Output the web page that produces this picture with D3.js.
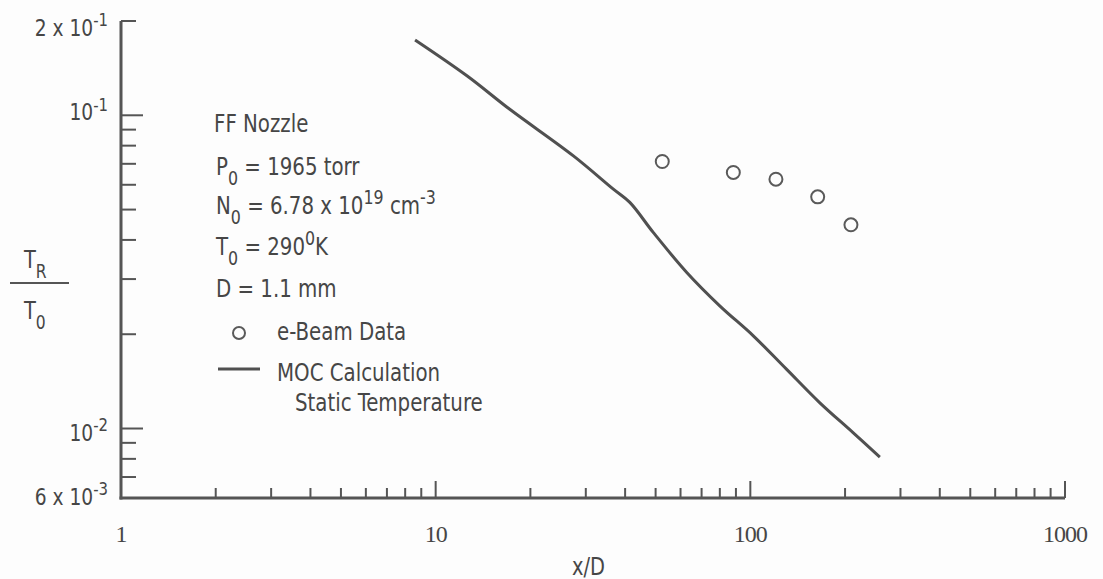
<!DOCTYPE html>
<html>
<head>
<meta charset="utf-8">
<script src="https://cdn.jsdelivr.net/npm/d3@7"></script>
<style>
  body { margin: 0; background: #fdfdfd; }
  svg { display: block; }
  .sans { font-family: "DejaVu Sans Condensed", "Liberation Sans Narrow", sans-serif; fill: #464646; }
  .serif { font-family: "Liberation Serif", serif; fill: #464646; }
</style>
</head>
<body>
<div id="chart"></div>
<script>

// MOC calculation (static temperature)
var curveX = [8.6, 12.6, 17.2, 27.4, 36.7, 41.4, 49.2, 62.8, 80.1, 102, 130, 166, 212, 258];
var curveY = [0.174, 0.1335, 0.1045, 0.0742, 0.0581, 0.0527, 0.0422, 0.0315, 0.0246, 0.0198, 0.0155, 0.0121, 0.0097, 0.0081];

// e-beam data points
var dataX = [52.5, 88.3, 120.6, 163.7, 208.8];
var dataY = [0.0712, 0.0657, 0.0625, 0.0549, 0.0447];

// axis labels
var xMajor = [1, 10, 100, 1000];
var xLabels = ["1", "10", "100", "1000"];
var yMajor = [0.2, 0.1, 0.01, 0.006];
var yMant = ["2 x 10", "10", "10", "6 x 10"];
var yExp = ["-1", "-1", "-2", "-3"];

LogPlot = function(_parentElement) {
  this.parentElement = _parentElement;
  this.width = 1103;
  this.height = 579;
  this.initVis();
};

LogPlot.prototype.initVis = function() {
  var vis = this;

  vis.svg = d3.select(vis.parentElement).append("svg")
    .attr("width", vis.width)
    .attr("height", vis.height);

  vis.x = d3.scaleLog().domain([1, 1000]).range([121, 1065]);
  vis.y = d3.scaleLog().domain([0.006, 0.2]).range([498, 21]);

  vis.drawAxes();
  vis.drawData();
  vis.drawLegend();
};

// text with sub/superscripts, parts = [[text, "sub"|"sup"|""], ...]
// sx squeezes the glyphs sideways (the original lettering is tall and narrow)
LogPlot.prototype.rich = function(x, y, parts, size, sx, cls) {
  var vis = this;
  var g = vis.svg.append("g")
    .attr("transform", "translate(" + x + "," + y + ") scale(" + (sx || 1) + ",1)");
  var t = g.append("text")
    .attr("class", cls || "sans")
    .attr("font-size", size);
  var shift = 0;
  parts.forEach(function(p) {
    var target = p[1] == "sub" ? size * 0.4 : (p[1] == "sup" ? -size * 0.42 : 0);
    t.append("tspan")
      .attr("dy", target - shift)
      .attr("font-size", p[1] ? size * 0.8 : size)
      .text(p[0]);
    shift = target;
  });
  return t;
};

LogPlot.prototype.drawAxes = function() {
  var vis = this;
  var col = "#555";

  // axis lines
  vis.svg.append("line")
    .attr("x1", vis.x(1)).attr("x2", vis.x(1))
    .attr("y1", vis.y(0.2)).attr("y2", vis.y(0.006) + 1.5)
    .attr("stroke", col).attr("stroke-width", 3);
  vis.svg.append("line")
    .attr("x1", vis.x(1) - 1.5).attr("x2", vis.x(1000))
    .attr("y1", vis.y(0.006)).attr("y2", vis.y(0.006))
    .attr("stroke", col).attr("stroke-width", 3);

  // x ticks, pointing up
  var xt = vis.x.ticks().filter(function(d) { return d > 1; });
  vis.svg.selectAll(".xtick")
    .data(xt)
    .enter().append("line")
    .attr("class", "xtick")
    .attr("x1", function(d) { return vis.x(d); })
    .attr("x2", function(d) { return vis.x(d); })
    .attr("y1", vis.y(0.006))
    .attr("y2", function(d) { return vis.y(0.006) - (xMajor.indexOf(d) >= 0 ? 17 : 10); })
    .attr("stroke", col).attr("stroke-width", 2);

  vis.svg.selectAll(".xlab")
    .data(xMajor)
    .enter().append("text")
    .attr("class", "serif")
    .attr("x", function(d) { return vis.x(d); })
    .attr("y", 542)
    .attr("text-anchor", "middle")
    .attr("font-size", 24)
    .attr("letter-spacing", -1)
    .text(function(d, i) { return xLabels[i]; });

  vis.rich(572, 575, [["x/D", ""]], 24, 0.9);

  // y ticks, pointing right
  var yt = vis.y.ticks().filter(function(d) { return d <= 0.1 + 1e-9 && d > 0.0061; });
  yt.push(0.2);
  vis.svg.selectAll(".ytick")
    .data(yt)
    .enter().append("line")
    .attr("class", "ytick")
    .attr("x1", vis.x(1))
    .attr("x2", function(d) {
      var big = (Math.abs(d - 0.1) < 1e-9 || Math.abs(d - 0.01) < 1e-9);
      return vis.x(1) + (big ? 22 : 15);
    })
    .attr("y1", function(d) { return vis.y(d); })
    .attr("y2", function(d) { return vis.y(d); })
    .attr("stroke", col).attr("stroke-width", 2);

  // the labels sit a little below their ticks, the top one most
  var drop = [15, 5, 12, 7];
  yMajor.forEach(function(v, i) {
    vis.rich(108, vis.y(v) + drop[i], [[yMant[i], ""], [yExp[i], "sup"]], 23, 0.9)
      .attr("text-anchor", "end");
  });

  // T_R / T_0
  vis.rich(24, 268, [["T", ""], ["R", "sub"]], 24, 0.9);
  vis.svg.append("line")
    .attr("x1", 10).attr("x2", 69)
    .attr("y1", 283).attr("y2", 283)
    .attr("stroke", col).attr("stroke-width", 2);
  vis.rich(24, 319, [["T", ""], ["0", "sub"]], 24, 0.9);
};

LogPlot.prototype.drawData = function() {
  var vis = this;

  var pts = curveX.map(function(d, i) { return [d, curveY[i]]; });
  var line = d3.line()
    .x(function(d) { return vis.x(d[0]); })
    .y(function(d) { return vis.y(d[1]); })
    .curve(d3.curveCatmullRom.alpha(0.5));

  vis.svg.append("path")
    .datum(pts)
    .attr("d", line)
    .attr("fill", "none")
    .attr("stroke", "#505050")
    .attr("stroke-width", 3);

  vis.svg.selectAll(".dot")
    .data(dataX)
    .enter().append("circle")
    .attr("class", "dot")
    .attr("cx", function(d) { return vis.x(d); })
    .attr("cy", function(d, i) { return vis.y(dataY[i]); })
    .attr("r", 6.5)
    .attr("fill", "none")
    .attr("stroke", "#5a5a5a")
    .attr("stroke-width", 2);
};

LogPlot.prototype.drawLegend = function() {
  var vis = this;
  var fs = 25, sx = 0.88;

  vis.rich(214, 132, [["FF Nozzle", ""]], fs, sx);
  vis.rich(216, 175, [["P", ""], ["0", "sub"], [" = 1965 torr", ""]], fs, sx);
  vis.rich(216, 214, [["N", ""], ["0", "sub"], [" = 6.78 x 10", ""], ["19", "sup"], [" cm", ""], ["-3", "sup"]], fs, sx);
  vis.rich(216, 255, [["T", ""], ["0", "sub"], [" = 290", ""], ["0", "sup"], ["K", ""]], fs, sx);
  vis.rich(216, 297, [["D = 1.1 mm", ""]], fs, sx);

  vis.svg.append("circle")
    .attr("cx", 239).attr("cy", 333).attr("r", 6)
    .attr("fill", "none").attr("stroke", "#5a5a5a").attr("stroke-width", 2);
  vis.rich(277, 340, [["e-Beam Data", ""]], fs, sx);

  vis.svg.append("line")
    .attr("x1", 218).attr("x2", 260)
    .attr("y1", 369).attr("y2", 369)
    .attr("stroke", "#505050").attr("stroke-width", 3);
  vis.rich(277, 381, [["MOC Calculation", ""]], fs, sx);
  vis.rich(295, 411, [["Static Temperature", ""]], fs, sx);
};

var plot = new LogPlot("#chart");
</script>
</body>
</html>
